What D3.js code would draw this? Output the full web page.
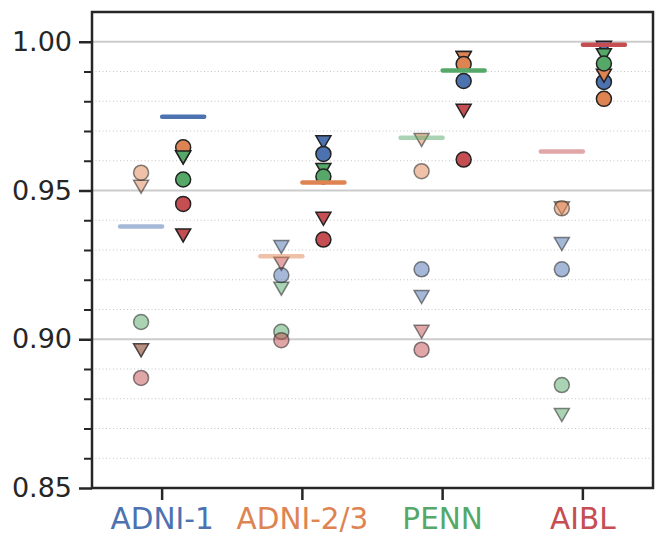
<!DOCTYPE html>
<html><head><meta charset="utf-8">
<script src="https://cdn.jsdelivr.net/npm/d3@7"></script>
<style>body{margin:0;background:#fff;} svg{display:block;}</style>
</head><body>
<svg id="c" width="665" height="548"></svg>
<script>
const categories = ["ADNI-1","ADNI-2/3","PENN","AIBL"];
const palette = ["#4C72B0","#DD8452","#55A868","#C44E52"];
const yMajor = [0.85,0.90,0.95,1.00];
const yMinor = [0.86,0.87,0.88,0.89,0.91,0.92,0.93,0.94,0.96,0.97,0.98,0.99];
// values per category, by marker colour [blue, orange, green, red]; null = absent
const beforeCircle   = [[null,0.956,0.9058,0.887],[0.9215,null,0.9025,0.8997],[0.9235,0.9565,null,0.8965],[0.9235,0.944,0.8846,null]];
const beforeTriangle = [[null,0.9513,0.8963,0.8963],[0.931,null,0.917,0.9254],[0.9142,0.967,null,0.9025],[0.932,0.944,0.8745,null]];
const afterCircle    = [[null,0.9645,0.9537,0.9455],[0.9623,null,0.9547,0.9335],[0.9868,0.9925,null,0.9604],[0.9865,0.9808,0.9927,null]];
const afterTriangle  = [[null,0.9612,0.9611,0.9349],[0.9662,null,0.9569,0.9405],[0.9945,0.9945,null,0.9768],[0.998,0.9886,0.9955,null]];
const beforeMean = [0.9379,0.9279,0.9677,0.9631];
const afterMean  = [0.9748,0.9527,0.9903,0.999];

const L=92,T=12,R=653,B=488;
const svg=d3.select("#c");
const y=d3.scaleLinear().domain([0.85,1.01]).range([B,T]);
const x=d3.scaleBand().domain(categories).range([L,R]);
const off=x.bandwidth()*0.15;

// grid
svg.append("g").selectAll("line").data(yMinor).join("line")
  .attr("x1",L).attr("x2",R).attr("y1",d=>y(d)).attr("y2",d=>y(d))
  .attr("stroke","#c4c4c4").attr("stroke-width",1).attr("stroke-dasharray","1,2.5");
svg.append("g").selectAll("line").data(yMajor).join("line")
  .attr("x1",L).attr("x2",R).attr("y1",d=>y(d)).attr("y2",d=>y(d))
  .attr("stroke","#cccccc").attr("stroke-width",2.2);

const tri = d3.symbol().type({draw(ctx,size){ctx.moveTo(-7.5,-6.5);ctx.lineTo(7.5,-6.5);ctx.lineTo(0,6.5);ctx.closePath();}}).size(1);
const plot=svg.append("g");
function drawColumn(ci, circ, tris, dx, fa, sa){
  const cx=x(categories[ci])+x.bandwidth()/2+dx;
  const g=plot.append("g");
  for(let k=0;k<4;k++){
    if(tris[ci][k]!=null){
      g.append("path").attr("d",tri()).attr("transform",`translate(${cx},${y(tris[ci][k])})`)
        .attr("fill",palette[k]).attr("fill-opacity",fa).attr("stroke","#222").attr("stroke-opacity",sa)
        .attr("stroke-width",1.5).attr("stroke-linejoin","miter");
    }
    if(circ[ci][k]!=null){
      g.append("circle").attr("cx",cx).attr("cy",y(circ[ci][k])).attr("r",7.5)
        .attr("fill",palette[k]).attr("fill-opacity",fa).attr("stroke","#222").attr("stroke-opacity",sa)
        .attr("stroke-width",1.5);
    }
  }
}
categories.forEach((c,i)=>{
  drawColumn(i,beforeCircle,beforeTriangle,-off,0.5,0.55);
  drawColumn(i,afterCircle,afterTriangle,off,1,1);
});
// mean lines
categories.forEach((c,i)=>{
  const cx=x(c)+x.bandwidth()/2;
  [[beforeMean,-off,0.5],[afterMean,off,1]].forEach(([arr,dx,a])=>{
    svg.append("line").attr("x1",cx+dx-21).attr("x2",cx+dx+21)
      .attr("y1",y(arr[i])).attr("y2",y(arr[i]))
      .attr("stroke",palette[i]).attr("stroke-opacity",a).attr("stroke-width",4.5).attr("stroke-linecap","round");
  });
});

// axes
const ax=svg.append("g").attr("transform",`translate(${L},0)`)
  .call(d3.axisLeft(y).tickValues(yMajor).tickSize(13).tickPadding(7).tickFormat(d3.format(".2f")));
ax.select(".domain").remove();
ax.selectAll(".tick line").attr("stroke","#262626").attr("stroke-width",2.5);
ax.selectAll("text").attr("font-family","DejaVu Sans").attr("font-size",27).attr("fill","#262626");
const axm=svg.append("g").attr("transform",`translate(${L},0)`)
  .call(d3.axisLeft(y).tickValues(yMinor).tickSize(8).tickFormat(""));
axm.select(".domain").remove();
axm.selectAll(".tick line").attr("stroke","#262626").attr("stroke-width",2);
const bx=svg.append("g").attr("transform",`translate(0,${B})`)
  .call(d3.axisBottom(x).tickSize(12).tickPadding(8));
bx.select(".domain").remove();
bx.selectAll(".tick line").attr("stroke","#262626").attr("stroke-width",2.5);
bx.selectAll("text").attr("font-family","DejaVu Sans").attr("font-size",29.5)
  .attr("fill",(d,i)=>palette[i]);
svg.append("rect").attr("x",L).attr("y",T).attr("width",R-L).attr("height",B-T)
  .attr("fill","none").attr("stroke","#262626").attr("stroke-width",2.5);
</script>
</body></html>
